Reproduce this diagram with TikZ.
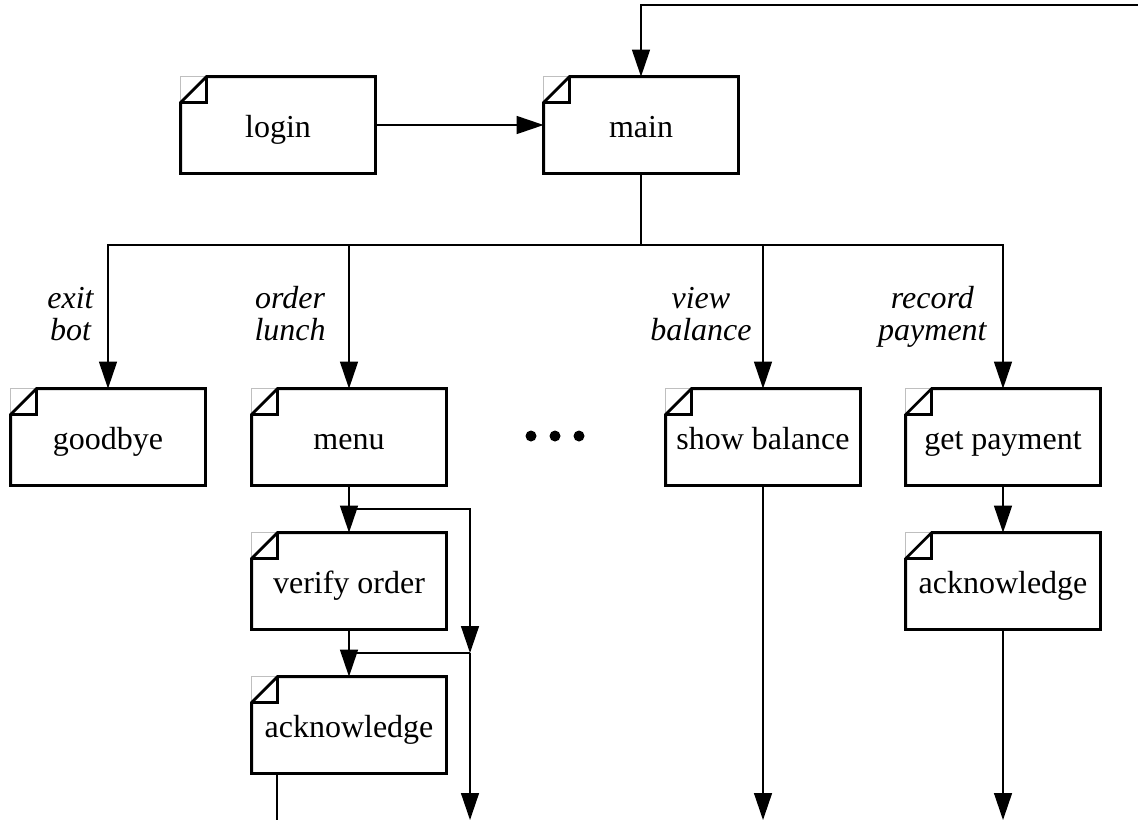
\documentclass[tikz,border=0pt]{standalone}
\usepackage{fontspec}
\setmainfont{Liberation Serif}
\usetikzlibrary{arrows.meta}

\tikzset{
  wire/.style={line width=0.7pt},
  flow/.style={wire,-{Triangle[length=13.5pt,width=9pt]}},
  card/.style={minimum width=97pt,minimum height=48pt,inner sep=0pt,
    text height=14pt,text depth=2pt,font=\fontsize{16}{19}\selectfont},
  guard/.style={font=\fontsize{16}{16}\selectfont\itshape,align=center,anchor=base east,inner sep=0pt}
}

\begin{document}
\begin{tikzpicture}[x=0.5pt,y=-0.5pt]
  \useasboundingbox (0,0) rectangle (1138,820);
  % dialog states
  \node[card] (login) at (278,125) {login};
  \node[card] (main) at (641,125) {main};
  \node[card] (goodbye) at (108,437) {goodbye};
  \node[card] (menu) at (349,437) {menu};
  \node[card] (showbal) at (763,437) {show balance};
  \node[card] (getpay) at (1003,437) {get payment};
  \node[card] (verify) at (349,581) {verify order};
  \node[card] (ackl) at (349,725) {acknowledge};
  \node[card] (ackr) at (1003,581) {acknowledge};
  % card outlines with the folded corner
  \foreach \n in {login,main,goodbye,menu,showbal,getpay,verify,ackl,ackr}{
    \draw[black!25,line width=0.5pt] ([yshift=-13pt]\n.north west) |- ([xshift=13pt]\n.north west);
    \draw[line width=1.4pt] ([xshift=13pt]\n.north west) -| (\n.south east) -| ([yshift=-13pt]\n.north west) -- cycle;
    \draw[line width=1.4pt] ([xshift=13pt]\n.north west) |- ([yshift=-13pt]\n.north west);
  }
  \foreach \x in {531,555,579} \fill (\x,436) circle (5.5);

  \coordinate (back) at (1138,5);
  \coordinate (split) at (641,245);
  \coordinate (skip) at (470,509);
  \coordinate (rejoin) at (470,653);
  \coordinate (outskip) at (470,820);
  \coordinate (outack) at (277,820);
  \coordinate (outbal) at (763,820);
  \coordinate (outpay) at (1003,820);

  \draw[flow] (back) -| (main);
  \draw[flow] (login) -- (main);
  \draw[wire] (main) -- (split);
  \draw[flow] (split) -| (goodbye);
  \draw[flow] (split) -| (menu);
  \draw[flow] (split) -| (showbal);
  \draw[flow] (split) -| (getpay);
  \node[guard] (lexit) at (94,340) {exit\\bot};
  \node[guard] (lorder) at (326,340) {order\\lunch};
  \node[guard] (lview) at (752,340) {view\\balance};
  \node[guard] (lrecord) at (987,340) {record\\payment};

  % order branch
  \draw[flow] (menu) -- (verify);
  \draw[flow] (menu.south |- skip) -- (skip) -- (rejoin);
  \draw[flow] (verify) -- (ackl);
  \draw[wire] (rejoin) -- (verify.south |- rejoin);
  \draw[flow] (rejoin) -- (outskip);
  \draw[wire] (outack |- ackl.south) -- (outack);

  \draw[flow] (showbal) -- (outbal);
  \draw[flow] (getpay) -- (ackr);
  \draw[flow] (ackr) -- (outpay);
\end{tikzpicture}
\end{document}
